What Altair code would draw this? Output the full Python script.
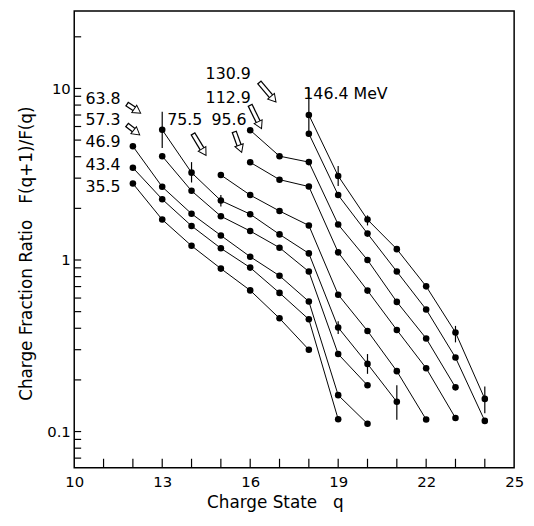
import math
import altair as alt
import pandas as pd

# ---- data ----
energies = ["35.5", "43.4", "46.9", "57.3", "63.8", "75.5", "95.6", "112.9", "130.9", "146.4"]
start_q = [12, 12, 12, 13, 13, 15, 16, 16, 18, 18]
ratio_35_5 = [2.79, 1.72, 1.21, 0.891, 0.665, 0.457, 0.300]
ratio_43_4 = [3.45, 2.26, 1.58, 1.17, 0.903, 0.643, 0.451, 0.118]
ratio_46_9 = [4.60, 2.67, 1.86, 1.39, 1.045, 0.809, 0.573, 0.163, 0.111]
ratio_57_3 = [4.03, 2.53, 1.80, 1.475, 1.18, 0.856, 0.283, 0.186]
ratio_63_8 = [5.74, 3.23, 2.22, 1.85, 1.41, 1.093, 0.404, 0.248, 0.149]
ratio_75_5 = [3.13, 2.39, 1.93, 1.59, 0.628, 0.386, 0.225, 0.1175]
ratio_95_6 = [3.71, 2.94, 2.68, 1.108, 0.663, 0.391, 0.234, 0.120]
ratio_112_9 = [5.71, 4.03, 3.72, 1.61, 1.00, 0.570, 0.349, 0.181]
ratio_130_9 = [5.45, 2.39, 1.425, 0.856, 0.515, 0.270, 0.1154]
ratio_146_4 = [7.01, 3.09, 1.72, 1.157, 0.702, 0.378, 0.155]
ratios = [ratio_35_5, ratio_43_4, ratio_46_9, ratio_57_3, ratio_63_8,
          ratio_75_5, ratio_95_6, ratio_112_9, ratio_130_9, ratio_146_4]

err_energy = ["63.8"] * 6 + ["146.4"] * 5
err_q = [13, 14, 15, 19, 20, 21, 18, 19, 20, 23, 24]
err_lo = [4.50, 2.83, 2.05, 0.370, 0.217, 0.117, 5.47, 2.70, 1.59, 0.331, 0.128]
err_hi = [7.31, 3.72, 2.39, 0.439, 0.283, 0.186, 10.07, 3.53, 1.82, 0.413, 0.183]

x_tick_labels = [10, 13, 16, 19, 22, 25]
x_minor = list(range(11, 25))
y_tick_labels = [0.1, 1, 10]
y_minor = [0.07, 0.08, 0.09, 0.1, 0.2, 0.3, 0.4, 0.5, 0.6, 0.7, 0.8, 0.9,
           1, 2, 3, 4, 5, 6, 7, 8, 9, 10, 20]

# energy labels (annotations)
lab_left_text = ["63.8", "57.3", "46.9", "43.4", "35.5"]
lab_left_q = [11.58] * 5
lab_left_r = [8.70, 6.50, 4.85, 3.58, 2.67]
lab_right_text = ["75.5", "95.6", "112.9", "130.9", "146.4 MeV"]
lab_right_q = [13.17, 14.68, 14.48, 14.48, 17.81]
lab_right_r = [6.50, 6.50, 8.81, 12.12, 9.30]

arrow_tail_q = [11.785, 11.785, 14.04, 15.45, 15.99, 16.30]
arrow_tail_r = [8.14, 6.16, 5.47, 5.62, 8.03, 10.9]
arrow_head_q = [12.29, 12.256, 14.51, 15.72, 16.40, 16.90]
arrow_head_r = [7.13, 5.32, 4.03, 4.19, 5.77, 8.25]

# ---- frames ----
rows = []
for e, q0, vals in zip(energies, start_q, ratios):
    for i, v in enumerate(vals):
        rows.append({"energy": e, "q": q0 + i, "ratio": v})
df = pd.DataFrame(rows)
err_df = pd.DataFrame({"energy": err_energy, "q": err_q, "ratio": err_lo, "ratio2": err_hi})

W, H = 445, 462
XDOM = [10, 25]
YDOM = [0.0616, 28.3]


def to_px(q, r):
    px = (q - XDOM[0]) / (XDOM[1] - XDOM[0]) * W
    py = (math.log10(YDOM[1]) - math.log10(r)) / (math.log10(YDOM[1]) - math.log10(YDOM[0])) * H
    return px, py


def lerp(q0, r0, q1, r1, t):
    return q0 + t * (q1 - q0), 10 ** (math.log10(r0) + t * (math.log10(r1) - math.log10(r0)))


shaft_rows, inner_rows, head_rows = [], [], []
for tq, tr, hq, hr in zip(arrow_tail_q, arrow_tail_r, arrow_head_q, arrow_head_r):
    x0, y0 = to_px(tq, tr)
    x1, y1 = to_px(hq, hr)
    L = math.hypot(x1 - x0, y1 - y0)
    ang = math.degrees(math.atan2(x1 - x0, -(y1 - y0))) % 360
    tc = 1 - 4.8 / L
    ts = 1 - 7.0 / L
    a = lerp(tq, tr, hq, hr, ts)
    b = lerp(tq, tr, hq, hr, 1.3 / L)
    c = lerp(tq, tr, hq, hr, tc)
    shaft_rows.append({"q": tq, "ratio": tr, "q2": a[0], "ratio2": a[1]})
    inner_rows.append({"q": b[0], "ratio": b[1], "q2": a[0], "ratio2": a[1]})
    head_rows.append({"q": c[0], "ratio": c[1], "angle": ang})
shaft_df = pd.DataFrame(shaft_rows)
inner_df = pd.DataFrame(inner_rows)
head_df = pd.DataFrame(head_rows)

FONT = "DejaVu Sans"
xscale = alt.Scale(domain=XDOM, nice=False, zero=False)
yscale = alt.Scale(type="log", domain=YDOM, nice=False)

x_axis = alt.Axis(values=x_tick_labels, format="d", ticks=False, tickSize=0, domain=False,
                  grid=False, labelFont=FONT, labelFontSize=15, labelColor="black",
                  labelPadding=7, labelFlush=False,
                  title="Charge State\u00a0\u00a0\u00a0q", titleFont=FONT, titleFontSize=17,
                  titleFontWeight="normal", titleColor="black", titleX=203, titleY=35,
                  titleAlign="center", titleBaseline="middle")
y_axis = alt.Axis(values=y_tick_labels, format="~g", ticks=False, tickSize=0, domain=False,
                  grid=False, labelFont=FONT, labelFontSize=15, labelColor="black",
                  labelPadding=4, labelFlush=False,
                  title="Charge Fraction Ratio\u00a0\u00a0\u00a0F(q+1)/F(q)", titleFont=FONT,
                  titleFontSize=17, titleFontWeight="normal", titleColor="black",
                  titleAngle=270, titleX=-48, titleY=245, titleAlign="center",
                  titleBaseline="middle")

X = alt.X("q:Q", scale=xscale, axis=x_axis)
Y = alt.Y("ratio:Q", scale=yscale, axis=y_axis)

lines = alt.Chart(df).mark_line(color="black", strokeWidth=1).encode(
    x=X, y=Y, detail="energy:N", order="q:Q")
points = alt.Chart(df).mark_circle(color="black", size=44, opacity=1).encode(x=X, y=Y)
errs = alt.Chart(err_df).mark_rule(color="black", strokeWidth=1.2).encode(
    x=X, y=Y, y2="ratio2:Q")
xt = alt.Chart(pd.DataFrame({"q": x_minor})).mark_rule(color="black", strokeWidth=1.2).encode(
    x=X, y=alt.value(H), y2=alt.value(H - 9))
yt = alt.Chart(pd.DataFrame({"ratio": y_minor})).mark_rule(color="black", strokeWidth=1.2).encode(
    y=Y, x=alt.value(0), x2=alt.value(7))

lab_l = alt.Chart(pd.DataFrame({"t": lab_left_text, "q": lab_left_q, "ratio": lab_left_r})).mark_text(
    font=FONT, fontSize=16, align="right", baseline="middle", color="black").encode(
    x=X, y=Y, text="t:N")
lab_r = alt.Chart(pd.DataFrame({"t": lab_right_text, "q": lab_right_q, "ratio": lab_right_r})).mark_text(
    font=FONT, fontSize=16, align="left", baseline="middle", color="black").encode(
    x=X, y=Y, text="t:N")

shaft = alt.Chart(shaft_df).mark_rule(color="black", strokeWidth=5.5, strokeCap="butt").encode(
    x=X, y=Y, x2="q2:Q", y2="ratio2:Q")
inner = alt.Chart(inner_df).mark_rule(color="white", strokeWidth=3, strokeCap="butt").encode(
    x=X, y=Y, x2="q2:Q", y2="ratio2:Q")
head = alt.Chart(head_df).mark_point(shape="triangle-up", filled=True, fill="white", stroke="black",
                                     strokeWidth=1, size=80, opacity=1, fillOpacity=1).encode(
    x=X, y=Y, angle=alt.Angle("angle:Q", scale=None))

chart = alt.layer(lines, xt, yt, errs, points, shaft, inner, head, lab_l, lab_r).properties(
    width=W, height=H,
    padding={"left": 67, "top": 0, "right": 12, "bottom": 52},
    autosize="none",
    background="white",
).configure_view(stroke="black", strokeWidth=1.5)

chart.save("out.html", embed_options={"renderer": "svg", "actions": False})
